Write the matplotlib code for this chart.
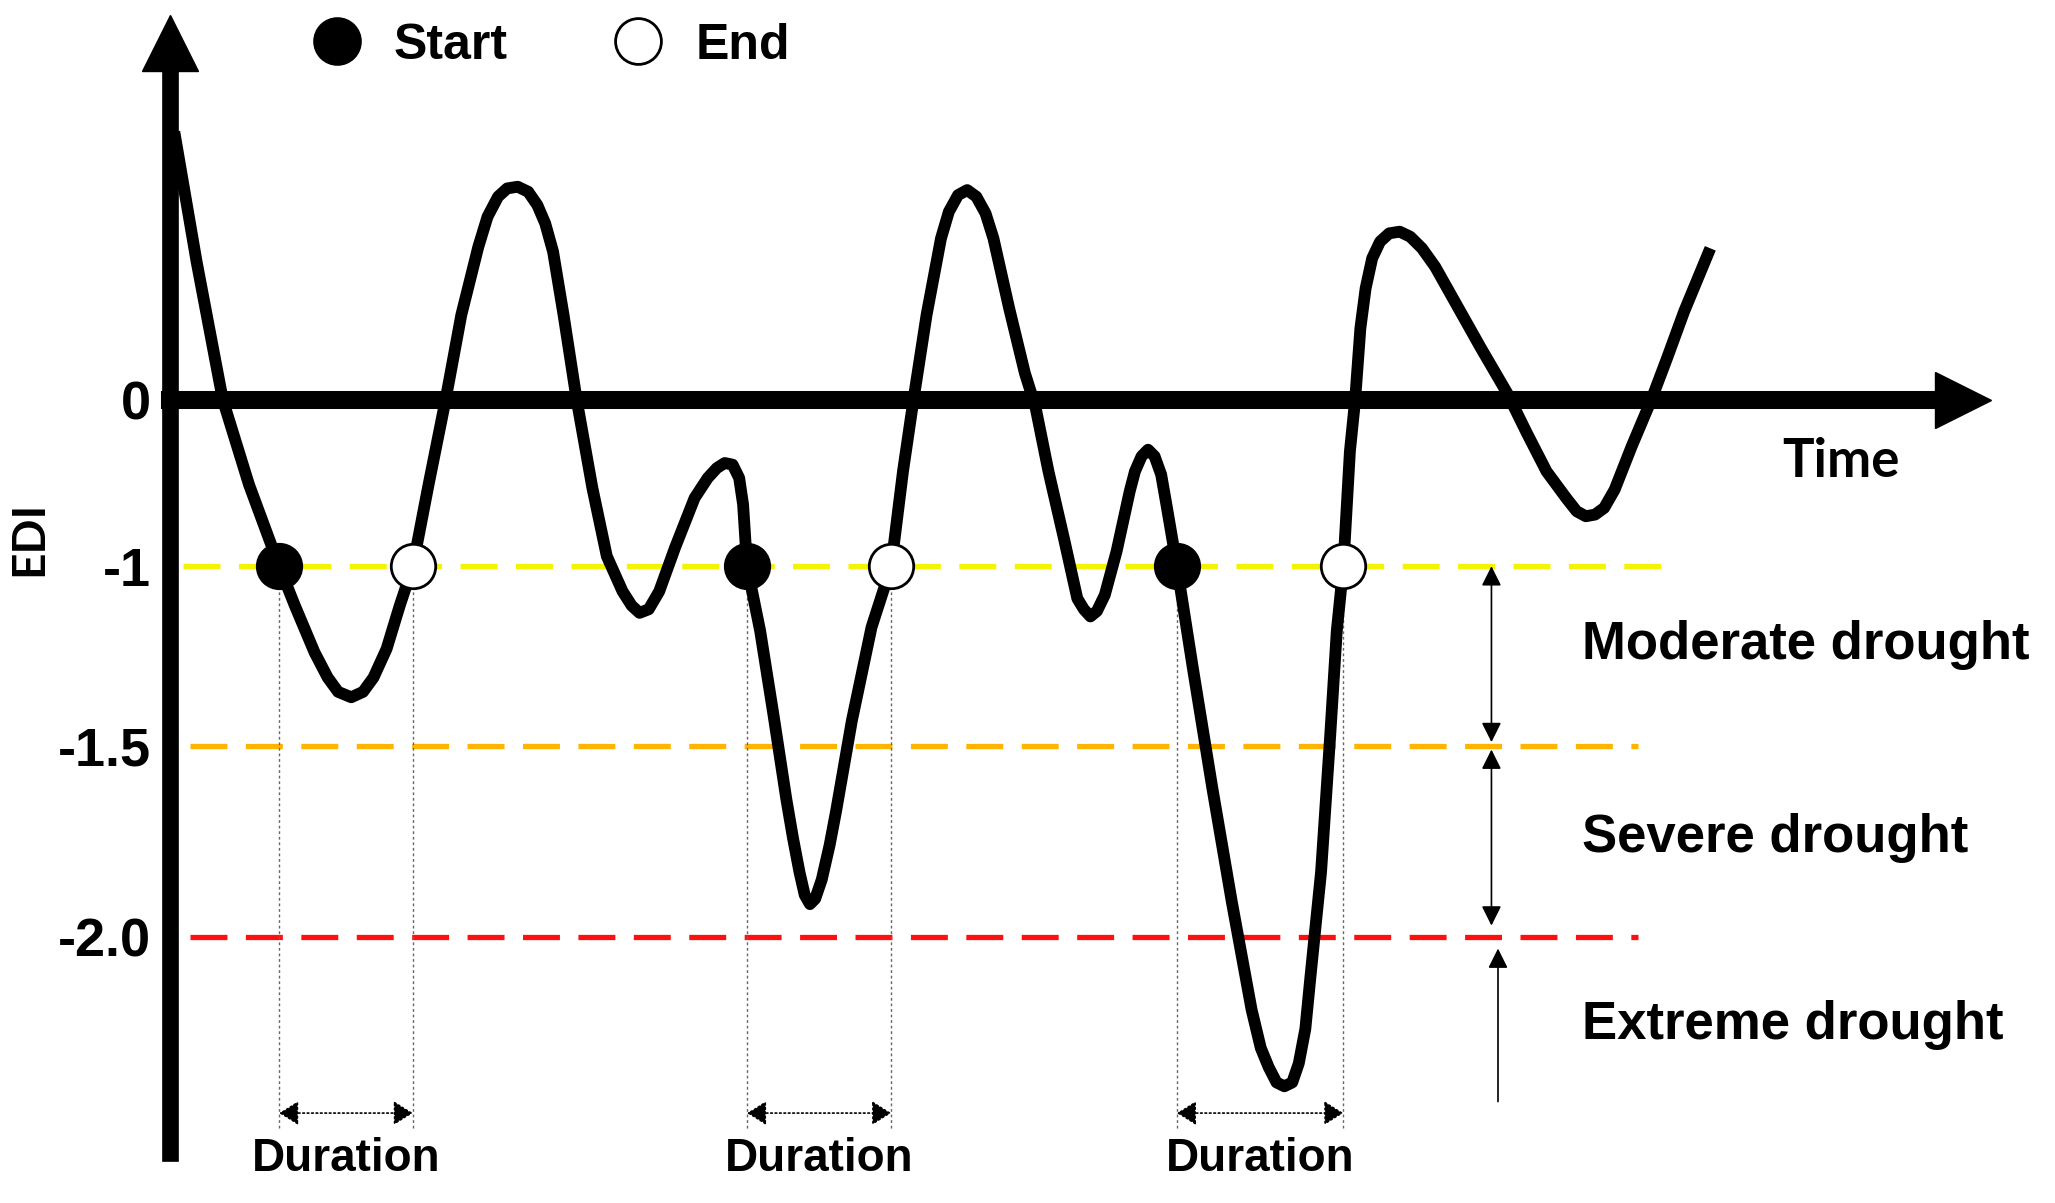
import matplotlib.pyplot as plt
from matplotlib.lines import Line2D
import numpy as np

plt.rcParams['font.family'] = ['Liberation Sans', 'DejaVu Sans']
plt.rcParams['font.weight'] = 'bold'

# schematic EDI series (time in arbitrary units)
time = [0.3, 2.0, 4.0, 6.0, 8.3, 9.5, 11.0, 12.0, 12.8, 13.8, 14.7, 15.5, 16.5, 17.5, 18.5,
        19.7, 21.0, 22.2, 23.5, 24.2, 25.0, 25.7, 26.5, 27.3, 28.0, 28.6, 29.2, 30.0,
        31.0, 32.2, 33.3, 34.5, 35.2, 35.8, 36.5, 37.3, 38.5, 40.0, 41.0, 41.7, 42.3,
        42.9, 43.4, 43.7, 44.0, 45.0, 46.0, 47.0, 47.5, 48.0, 48.4, 48.8, 49.2, 49.7,
        50.3, 50.8, 52.0, 53.5, 55.0, 55.9, 56.7, 57.7, 58.8, 59.4, 60.1, 60.8, 61.5,
        62.2, 62.8, 64.0, 65.2, 66.0, 67.0, 68.2, 69.2, 69.7, 70.2, 70.7, 71.3, 72.2,
        73.2, 73.6, 74.1, 74.6, 75.1, 75.6, 76.0, 76.8, 78.0, 79.5, 81.0, 82.5, 83.2,
        83.8, 84.4, 85.0, 85.6, 86.1, 86.6, 87.0, 87.8, 88.5, 89.0, 89.5, 90.0, 90.4,
        90.8, 91.2, 91.7, 92.3, 93.0, 93.8, 94.6, 95.5, 96.5, 98.0, 100.0, 102.0, 103.5,
        105.0, 106.5, 107.3, 108.0, 108.7, 109.4, 110.2, 111.5, 113.0, 114.2, 115.5,
        116.5, 117.5]
edi = [1.61, 0.83, 0.0, -0.51, -1.0, -1.11, -1.24, -1.31, -1.35, -1.365, -1.35, -1.31, -1.23, -1.11, -1.0,
       -0.51, 0.0, 0.51, 0.92, 1.10, 1.22, 1.27, 1.28, 1.25, 1.17, 1.06, 0.89, 0.51,
       0.0, -0.53, -0.94, -1.07, -1.11, -1.13, -1.12, -1.07, -0.89, -0.59, -0.47, -0.41, -0.38,
       -0.39, -0.47, -0.63, -1.0, -1.18, -1.41, -1.64, -1.74, -1.83, -1.89, -1.914, -1.90, -1.85,
       -1.76, -1.67, -1.43, -1.17, -1.0, -0.43, 0.0, 0.51, 0.97, 1.13, 1.23, 1.26, 1.22,
       1.12, 0.97, 0.55, 0.16, -0.04, -0.43, -0.84, -1.09, -1.12, -1.14, -1.125, -1.08, -0.91,
       -0.55, -0.43, -0.34, -0.30, -0.34, -0.45, -0.63, -1.0, -1.28, -1.61, -1.91, -2.19, -2.29,
       -2.34, -2.38, -2.39, -2.38, -2.33, -2.24, -2.10, -1.83, -1.47, -1.18, -1.0, -0.31, 0.0,
       0.43, 0.67, 0.85, 0.95, 1.0, 1.01, 0.98, 0.91, 0.80, 0.59, 0.31, 0.04, -0.20,
       -0.43, -0.59, -0.67, -0.70, -0.69, -0.65, -0.54, -0.28, 0.0, 0.25, 0.53,
       0.72, 0.91]

start_t = [8.3, 44.0, 76.8]
end_t = [18.5, 55.0, 89.5]
onset = -1.0

levels = [-1.0, -1.5, -2.0]
level_colors = ['#f4f400', '#ffb400', '#ff1010']
level_x0 = [1.0, 1.5, 1.5]
level_x1 = [114.0, 112.0, 112.0]

ytick_vals = [0, -1.0, -1.5, -2.0]
ytick_labels = ['0', '-1', '-1.5', '-2.0']

classes = ['Moderate drought', 'Severe drought', 'Extreme drought']
class_y = [-1.22, -1.74, -2.23]

# the schematic draws the thresholds unevenly spaced
edi_knots = [-10.0, -2.0, -1.5, -1.0, 0.0, 10.0]
pos_knots = [-2746.0, -410.0, -264.0, -127.0, 0.0, 1270.0]

def fwd(v):
    return np.interp(v, edi_knots, pos_knots)

def inv(p):
    return np.interp(p, pos_knots, edi_knots)

fig = plt.figure(figsize=(20.55, 12.03), dpi=100)
ax = fig.add_axes([0, 0, 1, 1])
ax.set_yscale('function', functions=(fwd, inv))
ax.set_xlim(-13, 143.8)
ax.set_ylim(-2.695, 2.402)

# axes drawn as thick arrows
for s in ['top', 'right']:
    ax.spines[s].set_visible(False)
ax.spines['left'].set_position(('data', 0))
ax.spines['bottom'].set_position(('data', 0))
ax.spines['left'].set_linewidth(12)
ax.spines['bottom'].set_linewidth(13)
ax.spines['left'].set_bounds(-2.565, 2.1)
ax.spines['bottom'].set_bounds(0, 136)
ax.plot([0], [2.146], marker='^', ms=40, color='black', clip_on=False)
ax.plot([136.75], [0], marker='>', ms=40, color='black', clip_on=False)

ax.set_xticks([])
ax.set_yticks(ytick_vals)
ax.set_yticklabels(ytick_labels)
ax.yaxis.set_minor_locator(plt.NullLocator())
ax.tick_params(axis='y', length=0, pad=14, labelsize=39)

# threshold lines
for lv, c, a, b in zip(levels, level_colors, level_x0, level_x1):
    ax.plot([a, b], [lv, lv], color=c, lw=3.8, dashes=(7, 3.5), zorder=1)

# guide lines from start/end points down to duration arrows
ax.vlines(start_t + end_t, -2.50, onset, colors='#666666', lw=1.0,
          linestyles=(0, (2, 2)), zorder=1)

ax.plot(time, edi, color='black', lw=8.5, solid_capstyle='butt',
        solid_joinstyle='round', zorder=3)

ax.plot(start_t, [onset] * 3, 'o', ms=32, mfc='black', mec='black', mew=2, zorder=5)
ax.plot(end_t, [onset] * 3, 'o', ms=32, mfc='white', mec='black', mew=2, zorder=5)

for a, b in zip(start_t, end_t):
    ax.annotate('', xy=(b, -2.46), xytext=(a, -2.46),
                arrowprops=dict(arrowstyle='<|-|>,head_length=0.4,head_width=0.25',
                                color='black', lw=1.2, linestyle=':',
                                mutation_scale=30, shrinkA=0, shrinkB=0))
    ax.text((a + b) / 2, -2.58, 'Duration', fontsize=33, ha='center', va='center')

# class ranges on the right
arrow_kw = dict(color='black', lw=1.2, mutation_scale=30, shrinkA=0, shrinkB=0)
ax.annotate('', xy=(100.8, -1.49), xytext=(100.8, -1.0),
            arrowprops=dict(arrowstyle='<|-|>,head_length=0.4,head_width=0.2', **arrow_kw))
ax.annotate('', xy=(100.8, -1.97), xytext=(100.8, -1.51),
            arrowprops=dict(arrowstyle='<|-|>,head_length=0.4,head_width=0.2', **arrow_kw))
ax.annotate('', xy=(101.3, -2.03), xytext=(101.3, -2.43),
            arrowprops=dict(arrowstyle='-|>,head_length=0.4,head_width=0.2', **arrow_kw))
for lab, y in zip(classes, class_y):
    ax.text(107.7, y, lab, fontsize=38, ha='left', va='center')

ax.text(127.5, -0.37, 'Time', fontsize=38, ha='center', va='center', family='Lato')
ax.text(-10.8, -0.83, 'EDI', fontsize=33, ha='center', va='center', rotation=90, family='Lato')

handles = [Line2D([], [], ls='none', marker='o', ms=33, mfc='black', mec='black', mew=2),
           Line2D([], [], ls='none', marker='o', ms=33, mfc='white', mec='black', mew=2)]
ax.legend(handles, ['Start', 'End'], loc='center left', bbox_to_anchor=(0.137, 0.962),
          ncol=2, frameon=False, fontsize=36, borderpad=0, handlelength=1.2,
          handletextpad=0.55, columnspacing=2.0)

plt.savefig('out.png', dpi=100)
